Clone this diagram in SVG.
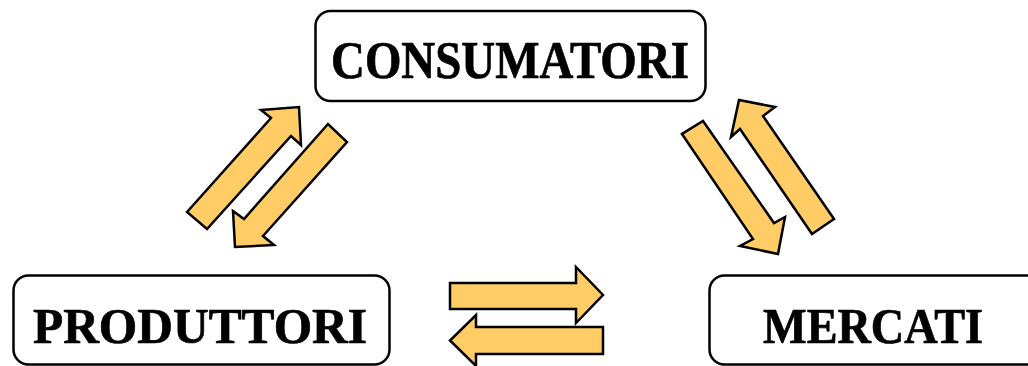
<svg xmlns="http://www.w3.org/2000/svg" width="1028" height="366" viewBox="0 0 1028 366">
<style>
.box{fill:#fff;stroke:#000;stroke-width:2.5}
.lbl{font-family:"Liberation Serif","DejaVu Serif",serif;font-weight:bold;fill:#000;stroke:#000;stroke-width:0.7}
.arr{fill:#FFCC66;stroke:#000;stroke-width:2.5;stroke-linejoin:miter}
</style>
<rect width="1028" height="366" fill="#fff"/>
<g id="connectors">
<polygon class="arr" points="187,212 271,118 261,110 299,107 301,145 291,136 207,229"/>
<polygon class="arr" points="328,124 244,219 233,211 235,247 274,245 263,236 347,142"/>
<polygon class="arr" points="682,134 753,239 740,246 778,254 785,217 774,223 703,121"/>
<polygon class="arr" points="812,234 740,129 731,137 739,100 775,107 763,116 834,219"/>
<polygon class="arr" points="450,283 576,283 576,267 603,295 576,323 576,309 450,309"/>
<polygon class="arr" points="603,327 476,327 476,315 450,340.5 476,366 476,354 603,354"/>
</g>
<g id="consumatori">
<rect class="box" x="315.5" y="11" width="390" height="90" rx="15"/>
<text class="lbl" x="331" y="78" font-size="53" textLength="358" lengthAdjust="spacingAndGlyphs">CONSUMATORI</text>
</g>
<g id="produttori">
<rect class="box" x="13.5" y="275.5" width="376" height="89" rx="15"/>
<text class="lbl" x="33" y="343" font-size="50" textLength="334" lengthAdjust="spacingAndGlyphs">PRODUTTORI</text>
</g>
<g id="mercati">
<rect class="box" x="709.5" y="275.5" width="332" height="89" rx="15"/>
<text class="lbl" x="763" y="343" font-size="50" textLength="220" lengthAdjust="spacingAndGlyphs">MERCATI</text>
</g>
</svg>
